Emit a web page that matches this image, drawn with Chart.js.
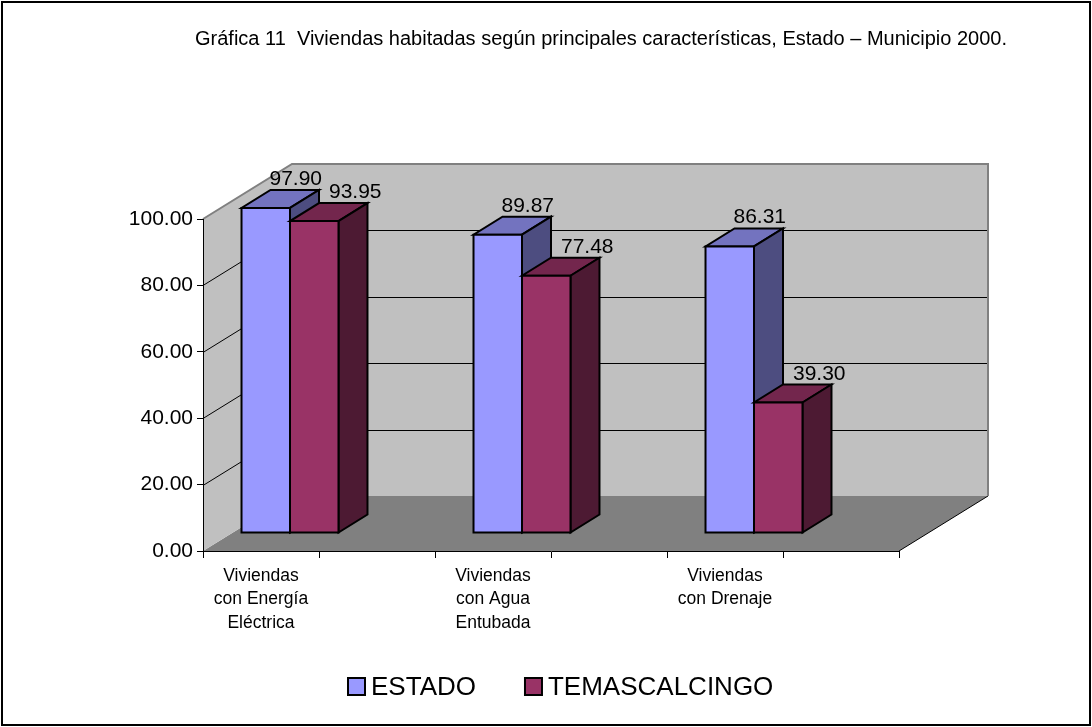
<!DOCTYPE html>
<html>
<head>
<meta charset="utf-8">
<script src="https://cdn.jsdelivr.net/npm/chart.js@4.4.0/dist/chart.umd.min.js"></script>
<style>
  html, body { margin: 0; padding: 0; background: #fff; overflow: hidden; }
  canvas { display: block; }
</style>
</head>
<body>
<canvas id="grafica" width="1092" height="727"></canvas>
<script>
// datos de la gráfica (los huecos en blanco separan los grupos, como en el original)
const categorias = [['Viviendas', 'con Energía', 'Eléctrica'], '', ['Viviendas', 'con Agua', 'Entubada'], '', ['Viviendas', 'con Drenaje'], ''];
const estado = [97.90, null, 89.87, null, 86.31, null];
const temascalcingo = [93.95, null, 77.48, null, 39.30, null];
const marcasY = [0, 20, 40, 60, 80, 100];
const titulo = 'Gráfica 11  Viviendas habitadas según principales características, Estado – Municipio 2000.';

const FUENTE = '"Liberation Sans", Arial, sans-serif';
Chart.defaults.font.family = FUENTE;
Chart.defaults.color = '#000';

// profundidad de la caja 3D y de las barras
const DX = 89, DY = -55;
const BX = 29, BY = -18;

function poly(ctx, pts, fill, stroke) {
  ctx.beginPath();
  pts.forEach((p, i) => i ? ctx.lineTo(p[0], p[1]) : ctx.moveTo(p[0], p[1]));
  ctx.closePath();
  if (fill) { ctx.fillStyle = fill; ctx.fill(); }
  if (stroke) ctx.stroke();
}

const caja3d = {
  id: 'caja3d',
  beforeDraw(chart) {
    const { ctx, chartArea: a, scales: { y } } = chart;
    ctx.save();
    ctx.fillStyle = '#fff';
    ctx.fillRect(0, 0, chart.width, chart.height);
    ctx.strokeStyle = '#000';
    ctx.lineWidth = 2;
    ctx.strokeRect(2, 2, chart.width - 4, chart.height - 4);

    // piso, pared izquierda y pared del fondo
    poly(ctx, [[a.left, a.bottom], [a.right, a.bottom], [a.right + DX, a.bottom + DY], [a.left + DX, a.bottom + DY]], '#808080');
    poly(ctx, [[a.left, a.top], [a.left + DX, a.top + DY], [a.left + DX, a.bottom + DY], [a.left, a.bottom]], '#c0c0c0');
    poly(ctx, [[a.left + DX, a.top + DY], [a.right + DX, a.top + DY], [a.right + DX, a.bottom + DY], [a.left + DX, a.bottom + DY]], '#c0c0c0');

    // líneas de división
    ctx.strokeStyle = '#000';
    ctx.lineWidth = 1;
    marcasY.slice(1, -1).forEach(v => {
      const py = Math.round(y.getPixelForValue(v)) + 0.5;
      ctx.beginPath();
      ctx.moveTo(a.left, py);
      ctx.lineTo(a.left + DX, py + DY);
      ctx.lineTo(a.right + DX, py + DY);
      ctx.stroke();
    });
    ctx.beginPath();
    ctx.moveTo(a.right, a.bottom);
    ctx.lineTo(a.right + DX, a.bottom + DY);
    ctx.stroke();

    // bordes de las paredes
    ctx.strokeStyle = '#808080';
    ctx.lineWidth = 2;
    ctx.beginPath();
    ctx.moveTo(a.left, a.top);
    ctx.lineTo(a.left + DX, a.top + DY);
    ctx.lineTo(a.right + DX, a.top + DY);
    ctx.lineTo(a.right + DX, a.bottom + DY);
    ctx.stroke();
    ctx.restore();
  }
};

const barras3d = {
  id: 'barras3d',
  beforeDatasetDraw() { return false; },
  afterDatasetsDraw(chart) {
    const ctx = chart.ctx;
    const metas = chart.getSortedVisibleDatasetMetas();
    ctx.save();
    ctx.lineWidth = 2;
    ctx.strokeStyle = '#000';
    ctx.lineJoin = 'miter';
    for (let i = 0; i < chart.data.labels.length; i++) {
      metas.forEach(meta => {
        const ds = chart.data.datasets[meta.index];
        if (ds.data[i] == null) return;
        const { x, y, base, width } = meta.data[i].getProps(['x', 'y', 'base', 'width'], true);
        const L = x - width / 2 + BX, R = x + width / 2 + BX, T = y + BY, B = base + BY;
        poly(ctx, [[L, T], [R, T], [R + BX, T + BY], [L + BX, T + BY]], ds.colorArriba, true);
        poly(ctx, [[R, T], [R + BX, T + BY], [R + BX, B + BY], [R, B]], ds.colorLado, true);
        poly(ctx, [[L, T], [R, T], [R, B], [L, B]], ds.backgroundColor, true);
      });
    }
    // etiquetas de valor
    ctx.fillStyle = '#000';
    ctx.font = '21px ' + FUENTE;
    ctx.textAlign = 'center';
    ctx.textBaseline = 'alphabetic';
    metas.forEach(meta => {
      const ds = chart.data.datasets[meta.index];
      meta.data.forEach((el, i) => {
        if (ds.data[i] == null) return;
        ctx.fillText(ds.data[i].toFixed(2), el.x + BX + ds.corrimiento, el.y + 2 * BY - 5);
      });
    });
    ctx.restore();
  }
};

const tituloLeyenda = {
  id: 'tituloLeyenda',
  afterDraw(chart) {
    const ctx = chart.ctx;
    ctx.save();
    ctx.fillStyle = '#000';
    ctx.font = '20px ' + FUENTE;
    ctx.textAlign = 'center';
    ctx.textBaseline = 'alphabetic';
    ctx.fillText(titulo, 601, 45);

    ctx.font = '26px ' + FUENTE;
    ctx.textAlign = 'left';
    const caja = 17, hueco = 6, sep = 49;
    let x = 348;
    chart.data.datasets.forEach(ds => {
      ctx.fillStyle = ds.backgroundColor;
      ctx.fillRect(x, 678, caja, caja);
      ctx.strokeStyle = '#000';
      ctx.lineWidth = 2;
      ctx.strokeRect(x, 678, caja, caja);
      ctx.fillStyle = '#000';
      ctx.fillText(ds.label, x + caja + hueco, 695);
      x += caja + hueco + ctx.measureText(ds.label).width + sep;
    });
    ctx.restore();
  }
};

new Chart(document.getElementById('grafica'), {
  type: 'bar',
  data: {
    labels: categorias,
    datasets: [
      { label: 'ESTADO', data: estado, backgroundColor: '#9999ff', colorArriba: '#7373bf', colorLado: '#4d4d80', corrimiento: 30 },
      { label: 'TEMASCALCINGO', data: temascalcingo, backgroundColor: '#993366', colorArriba: '#73264d', colorLado: '#4d1a33', corrimiento: 41 }
    ]
  },
  options: {
    responsive: false,
    animation: false,
    devicePixelRatio: 1,
    layout: { padding: { left: 130, top: 219, right: 193, bottom: 66 } },
    datasets: { bar: { barPercentage: 1, categoryPercentage: 0.836 } },
    plugins: { legend: { display: false }, title: { display: false }, tooltip: { enabled: false } },
    scales: {
      x: {
        offset: true,
        grid: { offset: true, drawOnChartArea: false, tickLength: 7, color: '#000', lineWidth: 1 },
        border: { color: '#000', width: 1 },
        ticks: { font: { size: 17.5, lineHeight: 1.35 }, padding: 6, maxRotation: 0, autoSkip: false },
        afterFit(s) { s.height = 110; }
      },
      y: {
        min: 0,
        max: 100,
        grid: { drawOnChartArea: false, tickLength: 6, color: '#000', lineWidth: 1 },
        border: { color: '#000', width: 1 },
        ticks: { stepSize: 20, font: { size: 21 }, padding: 4, callback: v => v.toFixed(2) },
        afterFit(s) { s.width = 73; }
      }
    }
  },
  plugins: [caja3d, barras3d, tituloLeyenda]
});
</script>
</body>
</html>
